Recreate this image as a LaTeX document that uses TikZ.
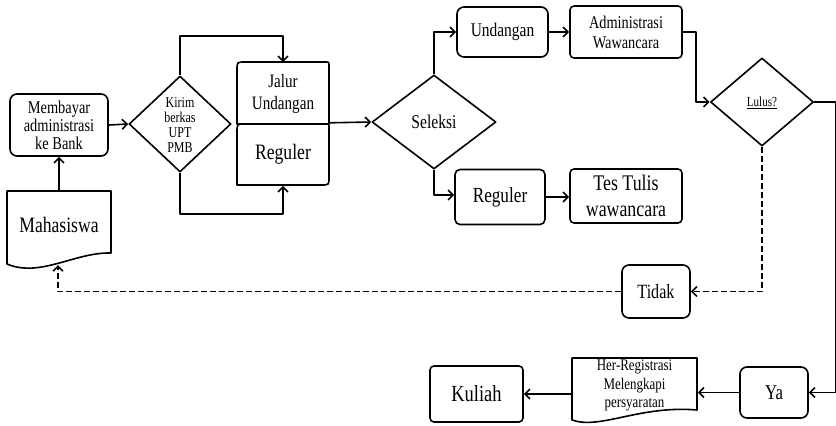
\documentclass[tikz,border=0pt]{standalone}
\usepackage{fontspec}
\setmainfont[FakeStretch=0.8]{Liberation Serif}
\usetikzlibrary{arrows.meta,shapes.geometric,calc}
\newcommand{\fs}[2]{\fontsize{#1}{#2}\selectfont}
\begin{document}
\begin{tikzpicture}[x=1pt,y=-1pt,line width=1.6pt,line join=round,
  box/.style={draw, rounded corners=7pt, align=center, inner sep=0pt},
  anch/.style={draw=none, align=center, inner sep=0pt},
  dia/.style={draw, diamond, inner sep=0pt},
  txt/.style={align=center, inner sep=0pt},
  arr/.style={-{Straight Barb[length=5pt,width=10pt,line width=1.6pt]}},
  dashedarr/.style={arr, dash pattern=on 6pt off 3pt}
]
\useasboundingbox (0,0) rectangle (836,426);

% left part
\node[box, minimum width=98pt, minimum height=62pt, font=\fs{18}{18}] (memb) at (59,125) {Membayar\\administrasi\\ke Bank};
\draw (7,264) -- (7,191) -- (111,191) -- (111,253) .. controls (75,252) and (40,278) .. (7,264) -- cycle;
\node[anch, minimum width=104pt, minimum height=68pt, font=\fs{22}{24}] (maha) at (59,225) {Mahasiswa};
\coordinate (mahabot) at (58,265);

\node[dia, minimum width=102pt, minimum height=96pt] (kirim) at (180,124) {};
\node[txt, font=\fs{15}{15}] (kirimt) at (180,125) {Kirim\\berkas\\UPT\\PMB};

% Jalur / Reguler
\draw (237,124) -- (237,70) .. controls (237,62) .. (245,62) -- (325,62) .. controls (329,62) .. (329,66) -- (329,124) -- cycle;
\draw (237,185) -- (237,132) .. controls (237,124) .. (245,124) -- (327,124) .. controls (329,124) .. (329,126) -- (329,177) .. controls (329,185) .. (321,185) -- cycle;
\node[anch, minimum width=92pt, minimum height=62pt, font=\fs{18.9}{22}] (jalur) at (283,94) {Jalur\\Undangan};
\node[anch, minimum width=92pt, minimum height=61pt, font=\fs{22}{24}] (reg) at (283,154.5) {Reguler};

% Seleksi
\node[dia, minimum width=124pt, minimum height=94pt] (sel) at (434,122) {};
\node[txt, font=\fs{19.5}{20}] (selt) at (434,122) {Seleksi};

\node[box, minimum width=91pt, minimum height=50pt, font=\fs{19.3}{22}] (und) at (502.5,32) {Undangan};
\node[box, rounded corners=4pt, minimum width=112pt, minimum height=52pt, font=\fs{17.9}{20}] (adm) at (626,32) {Administrasi\\Wawancara};

\node[box, rounded corners=5pt, minimum width=90pt, minimum height=55pt, font=\fs{21.5}{24}] (reg2) at (500,197) {Reguler};
\node[box, rounded corners=4pt, minimum width=112pt, minimum height=54pt, font=\fs{22.3}{26}] (tes) at (626,196) {Tes Tulis\\wawancara};

% Lulus
\node[dia, minimum width=103pt, minimum height=88pt] (lulus) at (762,102) {};
\node[txt, font=\fs{13.8}{15}] (lulust) at (762,103) {\underline{Lulus?}};

\node[box, minimum width=68pt, minimum height=53pt, font=\fs{20.2}{22}] (tidak) at (656,291.5) {Tidak};
\node[box, minimum width=68pt, minimum height=51pt, font=\fs{21}{22}] (ya) at (774,392.5) {Ya};

\draw (572,420) -- (572,358) -- (697,358) -- (697,410) .. controls (640,405) and (600,430) .. (572,420) -- cycle;
\node[anch, minimum width=125pt, minimum height=62pt, font=\fs{16.2}{18.5}] (her) at (634.5,385.5) {Her-Registrasi\\Melengkapi\\persyaratan};

\node[box, rounded corners=4pt, minimum width=93pt, minimum height=56pt, font=\fs{23.1}{26}] (kul) at (476.5,394) {Kuliah};

% connectors
\draw[arr] (maha.north) -- (memb.south);
\draw[arr] (memb.east) -- (kirim.west);
\draw[arr] (kirim.north) -- ++(0,-39) -| (jalur.north);
\draw[arr] (kirim.south) -- ++(0,41) -| (reg.south);
\draw[arr] ($(jalur.south east)+(0,-3)$) -- (sel.west);
\draw[arr] (sel.north) |- (und.west);
\draw[arr] (und.east) -- (adm.west);
\draw[arr] (adm.east) -- ++(13,0) |- (lulus.west);
\draw[arr] (sel.south) |- ($(reg2.west)+(0,-2)$);
\draw[arr] (reg2.east) -- (reg2.east -| tes.west);
\draw[arr] (lulus.east) -- ++(21,0) |- (ya.east);
\draw[arr] (ya.west) -- (ya.west -| her.east);
\draw[arr] (kul.east -| her.west) -- (kul.east);
\draw[dashedarr] (lulus.south) |- (tidak.east);
\draw[dashedarr] (tidak.west) -| (mahabot);
\end{tikzpicture}
\end{document}
